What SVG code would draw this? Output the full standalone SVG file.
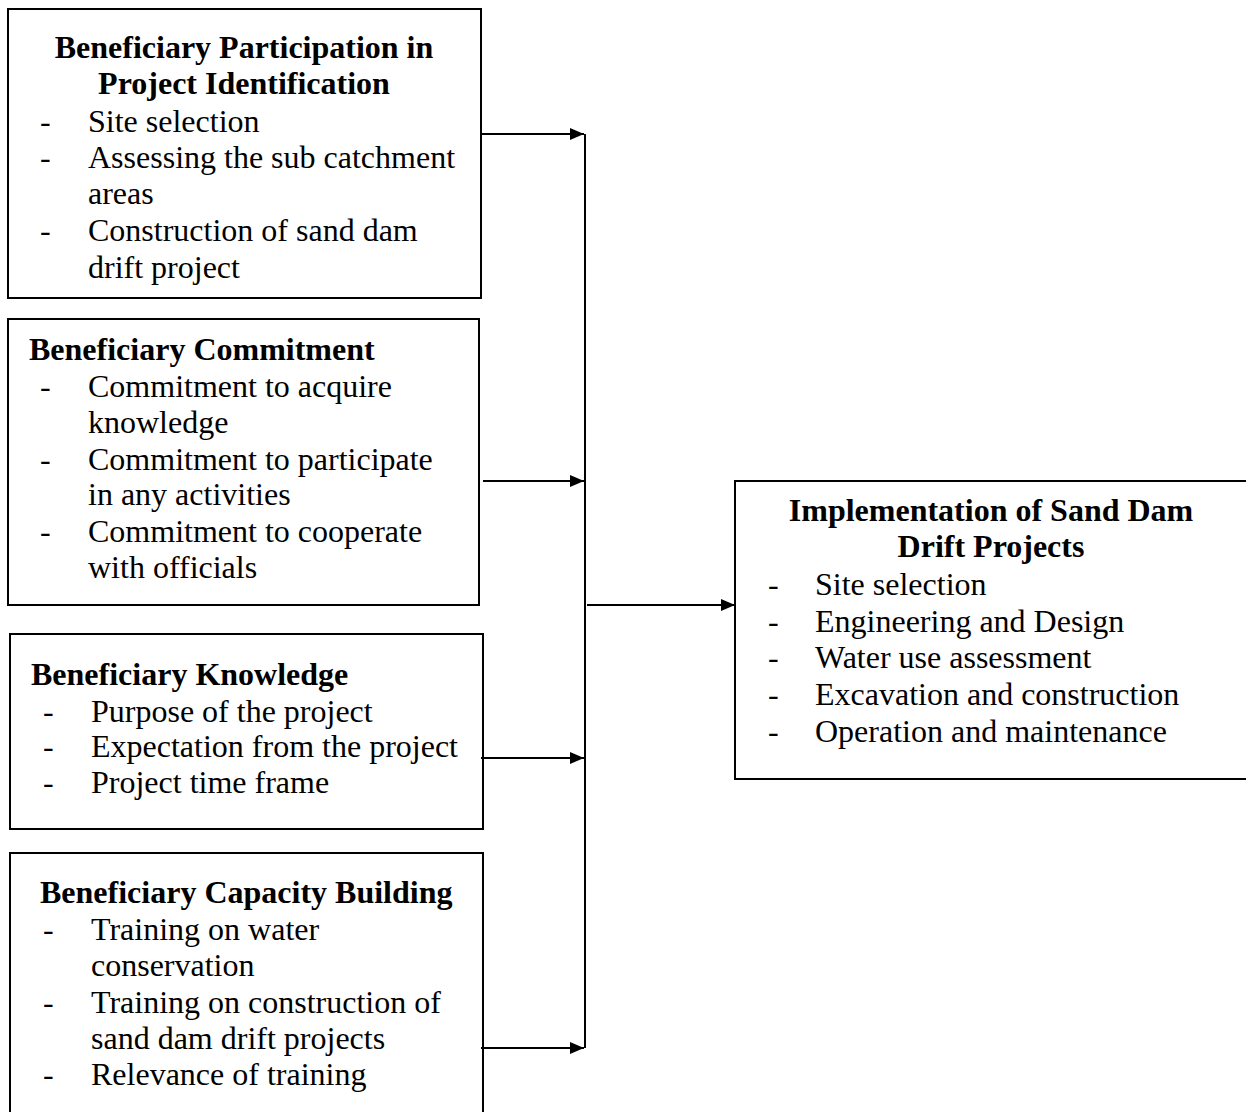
<svg xmlns="http://www.w3.org/2000/svg" width="1246" height="1112" viewBox="0 0 1246 1112">
<style>
.box{fill:#fff;stroke:#000;stroke-width:2}
text{font-family:"Liberation Serif","Times New Roman",serif;font-size:32px;fill:#000}
.t{font-weight:bold}
.c{text-anchor:middle}
.con{stroke:#000;stroke-width:2;fill:none}
</style>
<defs>
<marker id="ah" markerWidth="14" markerHeight="12" refX="14" refY="6" orient="auto" markerUnits="userSpaceOnUse">
<path d="M0,0 L14,6 L0,12 Z" fill="#000"/>
</marker>
</defs>
<rect width="1246" height="1112" fill="#fff"/>
<g id="node-identification">
<rect class="box" x="8" y="9" width="473" height="289"/>
<text class="t c" x="244" y="58">Beneficiary Participation in</text>
<text class="t c" x="244" y="94">Project Identification</text>
<text x="40" y="132">-</text><text x="88" y="132">Site selection</text>
<text x="40" y="168">-</text><text x="88" y="168">Assessing the sub catchment</text>
<text x="88" y="204">areas</text>
<text x="40" y="241">-</text><text x="88" y="241">Construction of sand dam</text>
<text x="88" y="278">drift project</text>
</g>
<g id="node-commitment">
<rect class="box" x="8" y="319" width="471" height="286"/>
<text class="t" x="29" y="360">Beneficiary Commitment</text>
<text x="40" y="397">-</text><text x="88" y="397">Commitment to acquire</text>
<text x="88" y="433">knowledge</text>
<text x="40" y="470">-</text><text x="88" y="470">Commitment to participate</text>
<text x="88" y="505">in any activities</text>
<text x="40" y="542">-</text><text x="88" y="542">Commitment to cooperate</text>
<text x="88" y="578">with officials</text>
</g>
<g id="node-knowledge">
<rect class="box" x="10" y="634" width="473" height="195"/>
<text class="t" x="31" y="685">Beneficiary Knowledge</text>
<text x="43" y="722">-</text><text x="91" y="722">Purpose of the project</text>
<text x="43" y="757">-</text><text x="91" y="757">Expectation from the project</text>
<text x="43" y="793">-</text><text x="91" y="793">Project time frame</text>
</g>
<g id="node-capacity">
<rect class="box" x="10" y="853" width="473" height="270"/>
<text class="t" x="40" y="903">Beneficiary Capacity Building</text>
<text x="43" y="940">-</text><text x="91" y="940">Training on water</text>
<text x="91" y="976">conservation</text>
<text x="43" y="1013">-</text><text x="91" y="1013">Training on construction of</text>
<text x="91" y="1049">sand dam drift projects</text>
<text x="43" y="1085">-</text><text x="91" y="1085">Relevance of training</text>
</g>
<g id="node-implementation">
<rect class="box" x="735" y="481" width="520" height="298"/>
<text class="t c" x="991" y="521">Implementation of Sand Dam</text>
<text class="t c" x="991" y="557">Drift Projects</text>
<text x="768" y="595">-</text><text x="815" y="595">Site selection</text>
<text x="768" y="632">-</text><text x="815" y="632">Engineering and Design</text>
<text x="768" y="668">-</text><text x="815" y="668">Water use assessment</text>
<text x="768" y="705">-</text><text x="815" y="705">Excavation and construction</text>
<text x="768" y="742">-</text><text x="815" y="742">Operation and maintenance</text>
</g>
<g id="connectors">
<line class="con" x1="585" y1="134" x2="585" y2="1048"/>
<line class="con" x1="481" y1="134" x2="584" y2="134" marker-end="url(#ah)"/>
<line class="con" x1="483" y1="481" x2="584" y2="481" marker-end="url(#ah)"/>
<line class="con" x1="481" y1="758" x2="584" y2="758" marker-end="url(#ah)"/>
<line class="con" x1="481" y1="1048" x2="584" y2="1048" marker-end="url(#ah)"/>
<line class="con" x1="587" y1="605" x2="735" y2="605" marker-end="url(#ah)"/>
</g>
</svg>
